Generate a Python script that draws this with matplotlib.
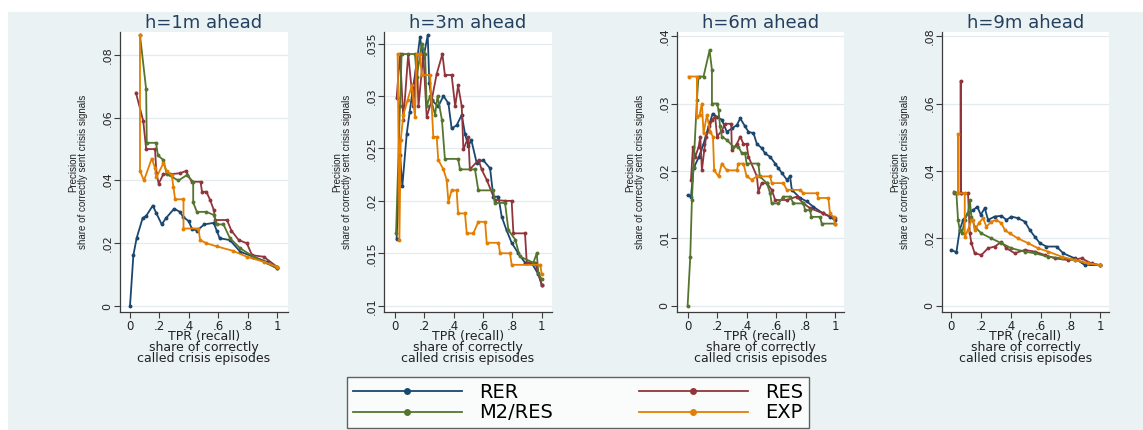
import matplotlib
matplotlib.use("Agg")
import matplotlib.pyplot as plt
from matplotlib.lines import Line2D
from matplotlib.patches import Rectangle

# panel titles and series names
titles = ["h=1m ahead", "h=3m ahead", "h=6m ahead", "h=9m ahead"]
series = ["RER", "RES", "M2/RES", "EXP"]

# h = 1 month
rer_1m_x = [0, .023, .045, .086, .11, .155, .18, .216, .245, .30, .34, .36, .40, .42, .455, .505, .57, .59, .61, .68, .75, .84, .93, 1]
rer_1m_y = [0, .0162, .0216, .028, .0287, .032, .0295, .026, .028, .031, .030, .0285, .027, .0247, .024, .026, .0265, .024, .0216, .021, .0173, .0157, .0141, .012]
res_1m_x = [.04, .09, .11, .17, .18, .195, .227, .27, .34, .38, .42, .48, .49, .52, .545, .57, .58, .66, .69, .74, .795, .83, .91, 1]
res_1m_y = [.068, .059, .050, .050, .0423, .039, .042, .042, .0423, .043, .0396, .0396, .0364, .0364, .0338, .0306, .0274, .0274, .024, .021, .020, .0162, .0157, .0125]
m2_1m_x = [.068, .11, .114, .177, .19, .227, .25, .33, .386, .43, .43, .455, .52, .57, .59, .636, .68, .75, .84, 1]
m2_1m_y = [.0863, .069, .052, .052, .048, .0465, .042, .040, .0417, .0396, .033, .030, .030, .029, .026, .026, .0216, .0184, .0157, .012]
exp_1m_x = [.068, .068, .095, .148, .17, .18, .227, .25, .284, .295, .307, .364, .364, .466, .477, .52, .59, .70, .795, .91, 1]
exp_1m_y = [.0863, .043, .040, .047, .044, .041, .0455, .043, .0417, .038, .034, .034, .0247, .0247, .021, .020, .019, .0176, .0157, .0141, .0125]

# h = 3 months
rer_3m_x = [.011, .034, .05, .08, .10, .125, .148, .17, .193, .223, .234, .25, .295, .33, .364, .386, .42, .455, .477, .50, .52, .557, .60, .648, .67, .705, .727, .76, .795, .84, .886, .93, .977, 1]
rer_3m_y = [.0164, .0244, .0214, .0264, .0285, .031, .0331, .0356, .0336, .0358, .0312, .0296, .029, .030, .0293, .0269, .0272, .0282, .0264, .0252, .0258, .0236, .0239, .0231, .0204, .0204, .0185, .0172, .016, .015, .0141, .0141, .013, .012]
res_3m_x = [.011, .034, .057, .09, .125, .148, .16, .193, .216, .25, .284, .323, .34, .386, .41, .43, .455, .466, .50, .51, .57, .59, .625, .68, .75, .795, .807, .886, .898, .955, 1]
res_3m_y = [.0298, .034, .0277, .034, .029, .034, .029, .034, .028, .0296, .0321, .034, .032, .032, .029, .031, .029, .0249, .0261, .023, .0239, .023, .022, .0201, .020, .020, .0169, .0169, .0141, .0141, .012]
m2_3m_x = [.007, .034, .045, .136, .148, .182, .205, .216, .239, .273, .29, .32, .34, .43, .443, .545, .568, .67, .68, .75, .773, .82, .85, .943, .966, .977, 1]
m2_3m_y = [.0169, .029, .034, .034, .0318, .035, .034, .029, .030, .0282, .030, .0277, .024, .024, .023, .023, .021, .021, .0198, .0198, .0172, .0163, .0147, .0141, .015, .0131, .0125]
exp_3m_x = [.018, .03, .039, .057, .086, .114, .136, .148, .17, .182, .239, .261, .284, .295, .33, .352, .364, .386, .42, .43, .477, .489, .534, .568, .614, .625, .705, .716, .784, .795, .99, 1]
exp_3m_y = [.034, .0163, .0258, .0282, .0296, .031, .028, .034, .034, .032, .032, .0261, .0261, .0239, .023, .022, .0199, .021, .021, .0188, .0188, .0169, .0169, .018, .018, .016, .016, .015, .015, .0139, .0139, .013]

# h = 6 months
rer_6m_x = [0, .023, .04, .075, .108, .142, .17, .2, .232, .266, .30, .334, .357, .39, .413, .447, .47, .503, .526, .56, .594, .616, .64, .673, .695, .707, .763, .808, .853, .92, .966, 1]
rer_6m_y = [.0164, .0162, .0204, .022, .024, .0266, .0285, .028, .0276, .0258, .0263, .0268, .0278, .0266, .0258, .0256, .024, .0234, .0226, .0221, .0211, .0204, .0197, .0187, .0192, .0172, .016, .0155, .0147, .0137, .0132, .0127]
res_6m_x = [.023, .036, .052, .075, .086, .097, .113, .126, .142, .165, .187, .2, .232, .255, .296, .30, .334, .357, .379, .40, .413, .47, .48, .503, .537, .571, .594, .673, .74, .786, .83, .92, 1]
res_6m_y = [.0187, .0236, .0221, .0236, .0251, .0201, .0231, .0251, .026, .0276, .028, .0251, .026, .027, .027, .0231, .024, .0251, .024, .024, .0221, .0192, .0169, .0182, .0182, .0172, .0157, .0157, .0162, .0152, .0145, .0137, .013]
m2_6m_x = [0, .018, .029, .04, .063, .074, .108, .149, .165, .165, .2, .21, .22, .232, .266, .31, .345, .368, .39, .40, .48, .49, .537, .56, .57, .616, .65, .695, .718, .786, .797, .83, .84, .898, .91, 1]
m2_6m_y = [0, .0073, .0157, .0206, .0305, .034, .034, .0379, .035, .030, .030, .029, .0266, .0251, .0246, .0236, .0236, .0226, .0226, .0211, .0211, .0192, .0182, .0167, .0152, .0152, .0162, .0162, .0152, .0152, .0142, .0142, .0132, .0132, .0122, .0122]
exp_6m_x = [.007, .063, .063, .081, .097, .108, .131, .153, .172, .18, .21, .232, .266, .334, .345, .379, .40, .436, .47, .56, .571, .65, .673, .763, .786, .876, .887, .955, .966, .99, 1]
exp_6m_y = [.034, .034, .028, .0283, .030, .0256, .0283, .0258, .0251, .0201, .0192, .0211, .0201, .0201, .0211, .0211, .0192, .0187, .0192, .0192, .0182, .0182, .0172, .0172, .0167, .0167, .016, .016, .0137, .0132, .0122]

# h = 9 months
rer_9m_x = [0, .034, .056, .079, .112, .146, .175, .198, .225, .247, .292, .337, .371, .404, .449, .494, .528, .562, .596, .64, .708, .753, .831, .899, 1]
rer_9m_y = [.0166, .0159, .0225, .0255, .0275, .0284, .0294, .027, .029, .0255, .0265, .0267, .0255, .0265, .026, .025, .0225, .0205, .0186, .0176, .0176, .0156, .0141, .0121, .0121]
res_9m_x = [.018, .063, .063, .063, .112, .124, .135, .157, .202, .247, .292, .337, .371, .427, .494, .562, .629, .697, .787, .876, .944, 1]
res_9m_y = [.0336, .0334, .0667, .0334, .0334, .0215, .0186, .0156, .0151, .0171, .0176, .019, .0171, .0156, .0166, .0161, .0151, .0141, .0136, .0141, .0126, .0121]
m2_9m_x = [.018, .034, .045, .056, .072, .09, .112, .124, .135, .157, .202, .27, .337, .404, .494, .562, .652, .742, .831, .921, 1]
m2_9m_y = [.0339, .0334, .0255, .0225, .0215, .0255, .0275, .0314, .0265, .0235, .0215, .020, .0186, .0171, .0161, .0156, .0146, .0141, .0136, .0126, .0121]
exp_9m_x = [.045, .045, .045, .09, .09, .112, .135, .146, .157, .184, .213, .236, .27, .303, .337, .36, .393, .449, .517, .584, .652, .742, .831, .921, 1]
exp_9m_y = [.0334, .051, .0334, .0334, .0205, .0225, .0255, .0255, .0225, .0245, .026, .0235, .025, .0255, .0245, .0225, .0215, .020, .0186, .0171, .0161, .0146, .0136, .0126, .0121]

panels = [
    [(rer_1m_x, rer_1m_y), (res_1m_x, res_1m_y), (m2_1m_x, m2_1m_y), (exp_1m_x, exp_1m_y)],
    [(rer_3m_x, rer_3m_y), (res_3m_x, res_3m_y), (m2_3m_x, m2_3m_y), (exp_3m_x, exp_3m_y)],
    [(rer_6m_x, rer_6m_y), (res_6m_x, res_6m_y), (m2_6m_x, m2_6m_y), (exp_6m_x, exp_6m_y)],
    [(rer_9m_x, rer_9m_y), (res_9m_x, res_9m_y), (m2_9m_x, m2_9m_y), (exp_9m_x, exp_9m_y)],
]

# axis ticks
yticks = [
    [0, .02, .04, .06, .08],
    [.01, .015, .02, .025, .03, .035],
    [0, .01, .02, .03, .04],
    [0, .02, .04, .06, .08],
]
ytick_labels = [
    ["0", ".02", ".04", ".06", ".08"],
    [".01", ".015", ".02", ".025", ".03", ".035"],
    ["0", ".01", ".02", ".03", ".04"],
    ["0", ".02", ".04", ".06", ".08"],
]
xticks = [0, .2, .4, .6, .8, 1]
xtick_labels = ["0", ".2", ".4", ".6", ".8", "1"]

colors = ["#1a476f", "#90353b", "#55752f", "#e37e00"]
bg = "#eaf2f3"
W, H = 1143, 430

# pixel boxes of the plot regions: left, right
boxes = [(120, 288), (384, 552), (677, 844), (942, 1109)]
top_px, bot_px = 32, 312
xlims = [(-0.068, 1.075), (-0.075, 1.07), (-0.072, 1.061), (-0.063, 1.061)]
ylims = [(-0.0019, 0.0873), (0.0094, 0.0361), (-0.0009, 0.0406), (-0.0018, 0.0812)]

fig = plt.figure(figsize=(W / 100, H / 100), dpi=100, facecolor="white")
fig.patches.append(Rectangle((8 / W, 0), 1 - 8 / W, 1 - 12 / H, transform=fig.transFigure,
                             facecolor=bg, edgecolor="none", zorder=-10))

for i in range(4):
    l, r = boxes[i]
    ax = fig.add_axes([l / W, (H - bot_px) / H, (r - l) / W, (bot_px - top_px) / H])
    ax.set_facecolor("white")
    for s in ["top", "right"]:
        ax.spines[s].set_visible(False)
    for s in ["left", "bottom"]:
        ax.spines[s].set_color("#3c3c3c")
        ax.spines[s].set_linewidth(0.9)

    for k, (xs, ys) in enumerate(panels[i]):
        ax.plot(xs, ys, color=colors[k], lw=1.3, marker="o", ms=2.8, mew=0)

    ax.set_xlim(*xlims[i])
    ax.set_ylim(*ylims[i])
    ax.set_xticks(xticks)
    ax.set_xticklabels(xtick_labels, fontsize=8.5)
    ax.set_yticks(yticks[i])
    ax.set_yticklabels(ytick_labels[i], fontsize=8, rotation=90, va="center")
    ax.tick_params(axis="both", length=4, width=0.8, color="#3c3c3c", pad=1.5, labelcolor="#222222")
    ax.grid(axis="y", color="#e3ebee", lw=0.9)
    ax.set_axisbelow(True)

    ax.set_title(titles[i], fontsize=13, color="#24405e", pad=3)
    ax.set_xlabel("TPR (recall)\nshare of correctly\ncalled crisis episodes",
                  fontsize=9, linespacing=0.8, color="#222222", va="top")
    ax.xaxis.set_label_coords(0.5, -0.066)
    ax.set_ylabel("Precision\nshare of correctly sent crisis signals",
                  fontsize=7, linespacing=1.0, color="#222222",
                  family=["Liberation Sans Narrow", "Liberation Sans"])
    ax.yaxis.set_label_coords(-0.19, 0.5)

handles = [Line2D([], [], color=c, lw=1.3, marker="o", ms=5, mew=0) for c in colors]
order = [0, 2, 1, 3]  # column-wise fill: RER, M2/RES | RES, EXP
leg = fig.legend([handles[j] for j in order], [series[j] for j in order],
                 ncol=2, loc="center", bbox_to_anchor=(578 / W, 1 - 402.5 / H),
                 fontsize=14, frameon=True, fancybox=False, edgecolor="#3c3c3c",
                 handlelength=5.6, handletextpad=0.9, columnspacing=4.4,
                 labelspacing=0.1, borderpad=0.3, borderaxespad=0, numpoints=1)
leg.get_frame().set_linewidth(1.0)
leg.get_frame().set_facecolor("white")

fig.savefig("out.png", dpi=100, facecolor=fig.get_facecolor())
